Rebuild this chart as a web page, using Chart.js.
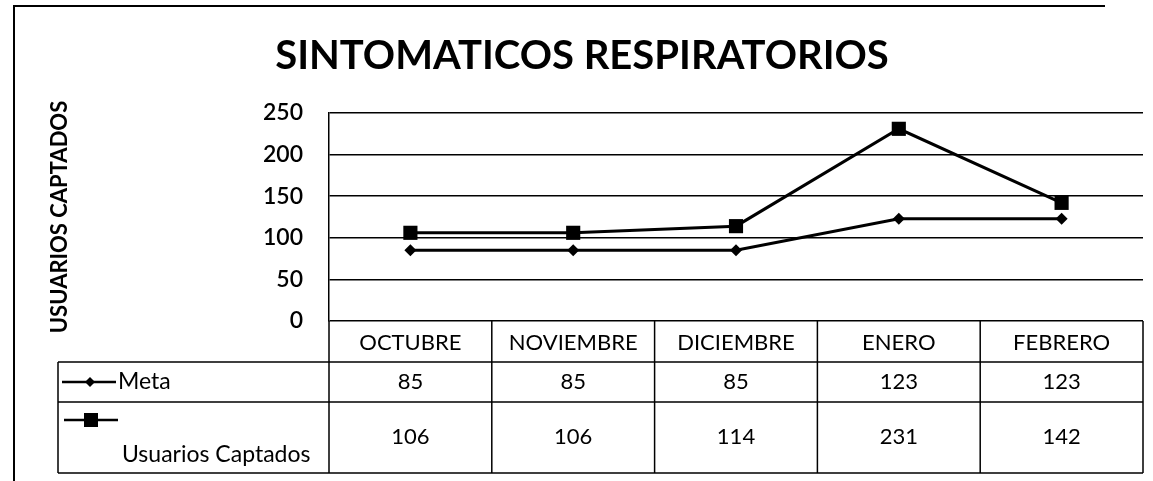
<!DOCTYPE html>
<html>
<head>
<meta charset="utf-8">
<title>Sintomaticos respiratorios</title>
<script src="https://cdn.jsdelivr.net/npm/chart.js@4/dist/chart.umd.min.js"></script>
<style>
  html, body { margin: 0; padding: 0; background: #fff; }
  #caja { width: 1153px; height: 481px; }
</style>
</head>
<body>
<div id="caja"><canvas id="sintChart" width="1153" height="481"></canvas></div>
<script>
var meses = ['OCTUBRE', 'NOVIEMBRE', 'DICIEMBRE', 'ENERO', 'FEBRERO'];
var meta = [85, 85, 85, 123, 123];
var usuarios = [106, 106, 114, 231, 142];
var yTicks = [0, 50, 100, 150, 200, 250];

var titulo = 'SINTOMATICOS RESPIRATORIOS';
var fuente = 'Lato, "Open Sans", sans-serif';

// titulo, marco y tabla de datos debajo del grafico
var tablaPlugin = {
    id: 'tablaDatos',
    afterDraw: function(chart) {
        var ctx = chart.ctx;
        var xs = chart.scales.x;
        var area = chart.chartArea;
        var colW = xs.width / meses.length;
        var y0 = area.bottom;
        var y1 = y0 + 41;
        var y2 = y1 + 40;
        var y3 = y2 + 71;
        var izq = 58;

        ctx.save();
        ctx.strokeStyle = '#000';
        ctx.fillStyle = '#000';

        // marco exterior
        ctx.lineWidth = 2;
        ctx.beginPath();
        ctx.moveTo(14, 481);
        ctx.lineTo(14, 6);
        ctx.lineTo(1105, 6);
        ctx.stroke();

        // titulo
        ctx.font = 'bold 40px ' + fuente;
        ctx.textAlign = 'center';
        ctx.textBaseline = 'middle';
        ctx.fillText(titulo, 582, 56);

        // lineas de la tabla
        ctx.lineWidth = 1.5;
        ctx.beginPath();
        [y1, y2, y3].forEach(function(y) {
            ctx.moveTo(izq, y);
            ctx.lineTo(xs.right, y);
        });
        ctx.moveTo(izq, y1);
        ctx.lineTo(izq, y3);
        for (var i = 0; i <= meses.length; i++) {
            var xv = xs.left + i * colW;
            ctx.moveTo(xv, y0);
            ctx.lineTo(xv, y3);
        }
        ctx.stroke();

        // encabezados y valores
        ctx.font = '22px ' + fuente;
        meses.forEach(function(m, i) {
            var cx = xs.getPixelForValue(i);
            ctx.fillText(m, cx, (y0 + y1) / 2 + 1);
            ctx.fillText(String(meta[i]), cx, (y1 + y2) / 2);
            ctx.fillText(String(usuarios[i]), cx, y2 + 35);
        });

        // leyenda dentro de la tabla
        var ly = (y1 + y2) / 2;
        ctx.lineWidth = 2.5;
        ctx.beginPath();
        ctx.moveTo(62, ly);
        ctx.lineTo(116, ly);
        ctx.stroke();
        ctx.beginPath();
        ctx.moveTo(90, ly - 5);
        ctx.lineTo(95, ly);
        ctx.lineTo(90, ly + 5);
        ctx.lineTo(85, ly);
        ctx.closePath();
        ctx.fill();
        ctx.textAlign = 'left';
        ctx.font = '23px ' + fuente;
        ctx.fillText('Meta', 118, ly);

        var uy = y2 + 18;
        ctx.beginPath();
        ctx.moveTo(64, uy);
        ctx.lineTo(118, uy);
        ctx.stroke();
        ctx.fillRect(84, uy - 7, 14, 14);
        ctx.fillText('Usuarios Captados', 122, y2 + 53);

        ctx.restore();
    }
};

var ctxSint = document.getElementById('sintChart').getContext('2d');
var sintChart = new Chart(ctxSint, {
    type: 'line',
    data: {
        labels: meses,
        datasets: [{
            label: 'Meta',
            data: meta,
            borderColor: '#000',
            backgroundColor: '#000',
            borderWidth: 3,
            pointStyle: 'rectRot',
            pointRadius: 6,
            pointBorderWidth: 0,
            tension: 0
        }, {
            label: 'Usuarios Captados',
            data: usuarios,
            borderColor: '#000',
            backgroundColor: '#000',
            borderWidth: 3,
            pointStyle: 'rect',
            pointRadius: 10,
            pointBorderWidth: 0,
            tension: 0
        }]
    },
    options: {
        responsive: false,
        animation: false,
        layout: {
            padding: { left: 40, right: 8, top: 113, bottom: 0 }
        },
        plugins: {
            legend: { display: false },
            title: { display: false },
            tooltip: { enabled: false }
        },
        scales: {
            x: {
                offset: true,
                grid: { display: false, drawTicks: false },
                border: { display: false },
                ticks: { display: false },
                afterFit: function(scale) { scale.height = 160; }
            },
            y: {
                min: 0,
                max: 250,
                afterBuildTicks: function(scale) {
                    scale.ticks = yTicks.map(function(v) { return { value: v }; });
                },
                grid: { color: '#000', lineWidth: 1.5, drawTicks: false },
                border: { color: '#000', width: 1.5 },
                ticks: {
                    color: '#000',
                    padding: 26,
                    font: { family: fuente, size: 23, weight: '600' }
                },
                title: {
                    display: true,
                    text: 'USUARIOS CAPTADOS',
                    color: '#000',
                    padding: { top: 7, bottom: 0 },
                    font: { family: fuente, size: 22, weight: 'bold' }
                },
                afterFit: function(scale) { scale.width = 289; }
            }
        }
    },
    plugins: [tablaPlugin]
});
</script>
</body>
</html>
